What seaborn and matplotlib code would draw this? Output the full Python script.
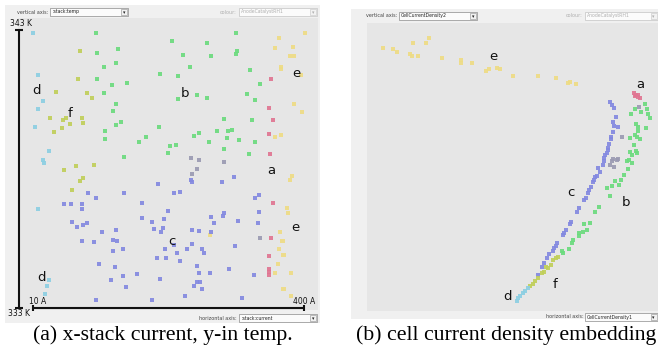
import matplotlib
matplotlib.use("Agg")
import matplotlib.pyplot as plt
import seaborn as sns
import pandas as pd
from matplotlib.patches import Rectangle

# ---------------- data: panel (a)  stack current [A] vs inlet temperature [K]
a_d_current = [10, 17, 24, 17, 13, 33, 24, 26, 17, 33, 30, 27]
a_d_temp = [342.89, 341.38, 340.45, 340.16, 339.51, 338.65, 338.32, 338.22, 336.56, 334.01, 333.79, 333.50]

a_f_current = [77.6, 74.7, 43.1, 87.7, 94.9, 34.5, 53.2, 57.5, 80.5, 81.9, 63.2, 51.7, 40.2, 71.9, 97.8, 54.6, 81.9, 77.6, 66.1]
a_f_temp = [342.24, 341.24, 340.77, 340.73, 340.55, 339.83, 339.76, 339.83, 339.83, 339.65, 339.62, 339.48, 339.33, 338.11, 338.14, 337.96, 337.68, 337.57, 337.24]

a_b_current = [100.6, 302.1, 210.0, 260.4, 132.3, 102.1, 225.8, 266.1, 303.5, 302.1, 129.4, 112.2, 235.9, 322.3, 192.7,
               218.6, 102.1, 336.6, 145.3, 123.7, 112.2, 246.0, 317.9, 260.4, 218.6, 329.4, 129.4, 125.1, 284.8, 325.1,
               136.6, 129.4, 191.3, 113.6, 274.8, 290.6, 296.3, 248.9, 241.7, 289.2, 113.6, 172.6, 162.5, 306.4, 263.3,
               329.4, 215.8, 207.1, 284.8, 204.3, 320.8, 140.9]
a_b_temp = [342.89, 342.89, 342.60, 342.53, 342.32, 342.17, 342.10, 342.06, 342.24, 342.14, 341.81, 341.67, 341.67, 341.56, 341.42,
            341.34, 341.24, 341.06, 341.09, 341.02, 340.73, 340.66, 340.70, 340.55, 340.52, 340.48, 340.34, 340.09, 339.80, 339.76,
            339.69, 339.58, 339.51, 339.37, 339.37, 339.37, 339.40, 339.30, 339.19, 339.12, 339.08, 339.15, 338.97, 339.04, 338.97,
            338.97, 338.86, 338.83, 338.72, 338.58, 338.54, 338.43]

a_e_current = [401.4, 364.0, 358.2, 384.1, 379.8, 385.6, 366.9, 366.9, 395.6, 385.6, 397.1, 366.9, 358.2, 382.7, 379.8,
               375.5, 376.9, 365.4, 264.7, 369.2, 364.0, 370.6, 362.5, 358.2, 381.2, 370.6, 381.2]
a_e_temp = [342.89, 342.71, 342.35, 342.39, 342.06, 342.06, 341.67, 341.60, 341.38, 340.34, 340.05, 339.22, 339.15, 337.75, 337.61,
            336.60, 336.42, 335.73, 335.63, 335.41, 335.12, 334.91, 334.58, 334.26, 334.26, 333.68, 333.43]

a_a_current = [352.5, 349.6, 355.3, 349.6, 351.0, 355.3, 352.5, 349.6, 349.6, 349.6, 349.6]
a_a_temp = [341.24, 340.19, 339.76, 339.26, 338.54, 336.78, 335.52, 334.87, 334.40, 334.29, 334.18]

a_g_current = [237.3, 248.9, 284.8, 246.0, 238.8, 336.6]
a_g_temp = [338.40, 338.32, 338.25, 338.00, 337.82, 335.52]

a_c_current = [237.3, 238.8, 299.2, 282.0, 189.9, 89.1, 140.9, 221.5, 212.9, 100.6, 335.2, 329.4, 54.6, 64.7, 80.5,
               166.8, 80.5, 204.3, 335.2, 284.8, 283.4, 266.1, 166.8, 198.5, 66.1, 305.0, 87.7, 81.9, 181.2, 270.4,
               333.8, 73.3, 184.1, 197.1, 194.2, 109.3, 129.4, 238.8, 248.9, 266.1, 80.5, 97.8, 125.1, 130.9, 238.8,
               212.9, 300.7, 139.5, 125.1, 199.9, 231.6, 253.2, 256.1, 217.2, 188.4, 201.4, 221.5, 105.0, 128.0, 246.0,
               292.0, 248.9, 264.7, 328.0, 159.6, 139.5, 122.2, 192.7, 250.3, 246.0, 241.7, 143.8, 253.2, 228.7, 100.6,
               181.2, 311.1]
a_c_temp = [337.61, 337.53, 337.71, 337.53, 337.46, 337.14, 337.14, 337.17, 337.14, 336.96, 337.07, 336.96, 336.74, 336.74, 336.74,
            336.78, 336.56, 336.49, 336.45, 336.42, 336.31, 336.27, 336.24, 336.20, 336.09, 336.13, 336.06, 335.99, 336.09, 336.06,
            336.06, 335.91, 335.84, 335.88, 335.73, 335.73, 335.81, 335.81, 335.77, 335.73, 335.41, 335.37, 335.45, 335.41, 335.30,
            335.27, 335.23, 335.12, 335.05, 335.12, 335.12, 335.12, 334.98, 334.98, 334.80, 334.80, 334.69, 334.58, 334.48, 334.51,
            334.40, 334.26, 334.26, 334.18, 334.22, 334.15, 334.01, 334.04, 333.94, 333.94, 333.79, 333.76, 333.68, 333.43, 333.29,
            333.29, 333.36]

# ---------------- data: panel (b)  cell current density embedding (arbitrary units)
b_e_d1 = [16, 26, 30, 46, 59, 62, 43, 45, 51, 75, 94, 94, 105, 119, 122, 130, 133, 146, 171, 189, 201, 203, 209]
b_e_d2 = [263, 262, 259, 268, 268, 273, 257, 255, 255, 253, 251, 248, 248, 240, 242, 243, 242, 235, 235, 233, 228, 229, 227]

b_a_d1 = [267, 269, 271, 273, 268, 271]
b_a_d2 = [218, 216, 214, 213, 215, 216]

b_g_d1 = [272, 255, 246, 251, 245, 250, 243, 247]
b_g_d2 = [204, 174, 152, 152, 150, 151, 146, 144]

b_b_d1 = [278, 268, 280, 274, 264, 281, 283, 269, 279, 271, 271, 263, 268, 270, 273, 267, 263, 269, 270, 265,
          260, 262, 265, 261, 257, 254, 248, 252, 245, 240, 243, 232, 228, 223, 217, 220, 216, 212, 212, 206,
          205, 202, 195, 196]
b_b_d2 = [207, 202, 202, 199, 197, 197, 193, 187, 183, 184, 180, 173, 176, 174, 172, 166, 159, 160, 158, 156,
          150, 151, 148, 142, 136, 131, 130, 126, 125, 123, 115, 104, 99, 88, 87, 81, 79, 78, 75, 71,
          68, 62, 60, 58]

b_c_d1 = [243, 245, 247, 249, 246, 247, 251, 246, 244, 244, 242, 241, 241, 238, 237, 240, 237, 236, 231, 233,
          230, 228, 227, 226, 224, 222, 221, 219, 217, 212, 210, 204, 203, 199, 197, 196, 190, 189, 187, 186,
          182, 180, 177, 175, 171]
b_c_d2 = [209, 206, 203, 194, 189, 185, 184, 179, 174, 172, 167, 163, 161, 156, 153, 158, 150, 146, 143, 139,
          135, 134, 131, 129, 124, 121, 118, 113, 111, 103, 99, 89, 87, 81, 78, 76, 68, 65, 63, 60,
          57, 53, 48, 44, 36]

b_f_d1 = [186, 189, 191, 184, 181, 179, 177, 175, 171, 168, 166, 163]
b_f_d2 = [51, 53, 54, 46, 43, 44, 39, 38, 33, 30, 27, 25]

b_d_d1 = [161, 158, 156, 153, 151, 150]
b_d_d2 = [23, 20, 18, 15, 13, 10]

palette = {"a": "#e07592", "b": "#6cdb7e", "c": "#8389e0", "d": "#8ccfe2",
           "e": "#eedc84", "f": "#c0cf5a", "g": "#9a9ab2"}

def frame(groups, xname, yname):
    parts = []
    for key, xs, ys in groups:
        parts.append(pd.DataFrame({xname: xs, yname: ys, "cluster": key}))
    return pd.concat(parts, ignore_index=True)

dfA = frame([("b", a_b_current, a_b_temp), ("f", a_f_current, a_f_temp), ("d", a_d_current, a_d_temp),
             ("e", a_e_current, a_e_temp), ("a", a_a_current, a_a_temp), ("c", a_c_current, a_c_temp),
             ("g", a_g_current, a_g_temp)], "current", "temp")
dfB = frame([("e", b_e_d1, b_e_d2), ("b", b_b_d1, b_b_d2), ("c", b_c_d1, b_c_d2), ("g", b_g_d1, b_g_d2),
             ("a", b_a_d1, b_a_d2), ("f", b_f_d1, b_f_d2), ("d", b_d_d1, b_d_d2)], "d1", "d2")

# ---------------- figure
sns.set_theme(style="white")
plt.rcParams["font.family"] = ["DejaVu Sans"]

W, H = 658, 347
fig = plt.figure(figsize=(W / 100, H / 100), dpi=100)
fig.patch.set_facecolor("white")

def prect(x0, y0, x1, y1):
    return [x0 / W, 1 - y1 / H, (x1 - x0) / W, (y1 - y0) / H]

def box(x0, y0, x1, y1, fc, ec="none", lw=0.0, z=-5):
    fig.add_artist(Rectangle((x0 / W, 1 - y1 / H), (x1 - x0) / W, (y1 - y0) / H,
                             transform=fig.transFigure, facecolor=fc, edgecolor=ec, lw=lw, zorder=z))

def ftext(x, y, s, **kw):
    fig.text(x / W, 1 - y / H, s, **kw)

def combo(x0, y0, x1, y1, label, enabled=True):
    ec = "#8c8c8c" if enabled else "#c4c4c4"
    tc = "#222222" if enabled else "#b0b0b0"
    box(x0, y0, x1, y1, "#fbfbfb", ec, 0.5, z=5)
    box(x1 - 7, y0 + 1, x1 - 1, y1 - 1, "#f2f2f2", ec, 0.4, z=6)
    ftext(x0 + 2, (y0 + y1) / 2, label, fontsize=3.3, color=tc, va="center", ha="left", zorder=7)
    ftext(x1 - 4, (y0 + y1) / 2 + 0.3, "\u25be", fontsize=3.5, color=tc, va="center", ha="center", zorder=7)

# outer frames
box(5, 5, 320, 323, "#f0f0f0")
box(351, 9, 658, 319, "#f0f0f0")

# ---------- panel (a)
axA = fig.add_axes(prect(18, 18, 318, 310))
sns.scatterplot(data=dfA, x="current", y="temp", hue="cluster", palette=palette, marker="s",
                s=10, linewidth=0, alpha=0.92, legend=False, ax=axA)
axA.set_xlim(-11.6, 420.1)
axA.set_ylim(332.93, 343.43)

# ---------- panel (b)
axB = fig.add_axes(prect(367, 23, 658, 311))
sns.scatterplot(data=dfB, x="d1", y="d2", hue="cluster", palette=palette, marker="s",
                s=10, linewidth=0, alpha=0.92, legend=False, ax=axB)
axB.set_xlim(0, 291)
axB.set_ylim(0, 288)

for ax in (axA, axB):
    ax.set_facecolor("#e6e6e6")
    for sp in ax.spines.values():
        sp.set_visible(False)
    ax.set_xticks([])
    ax.set_yticks([])
    ax.set_xlabel("")
    ax.set_ylabel("")

# custom axis bars in panel (a)
bar_kw = dict(color="#111111", lw=1.5, clip_on=False, solid_capstyle="butt")
axA.plot([-10.2, -10.2], [333, 343], **bar_kw)
axA.plot([-10.2], [343], marker="_", ms=6, mew=1.5, color="#111111", clip_on=False)
axA.plot([-10.2], [333], marker="_", ms=6, mew=1.5, color="#111111", clip_on=False)
axA.plot([10, 400], [333, 333], **bar_kw)
axA.plot([10, 400], [333, 333], ls="none", marker="|", ms=5, mew=1.5, color="#111111", clip_on=False)

ftext(20.5, 24, "343 K", fontsize=5.5, ha="center", va="center", color="#111111")
ftext(19, 313.5, "333 K", fontsize=5.5, ha="center", va="center", color="#111111")
ftext(37.5, 302, "10 A", fontsize=5.5, ha="center", va="center", color="#111111")
ftext(304.5, 302, "400 A", fontsize=5.5, ha="center", va="center", color="#111111")

# cluster letters
lab_kw = dict(fontsize=9.5, ha="center", va="center", color="#111111")
for s, x, y in [("d", 15.7, 340.84), ("d", 22.9, 334.11), ("f", 63.2, 339.98), ("b", 228.7, 340.73),
                ("e", 388.4, 341.45), ("e", 387.0, 335.88), ("a", 352.5, 337.96), ("c", 210.0, 335.41)]:
    axA.text(x, y, s, **lab_kw)
for s, x, y in [("e", 126, 254), ("a", 273, 226), ("c", 204, 119), ("b", 259, 109),
                ("f", 188, 27), ("d", 140, 14)]:
    axB.text(x, y, s, **lab_kw)

# UI controls panel (a)
ftext(48, 12, "vertical axis:", fontsize=3.5, ha="right", va="center", color="#444444")
combo(50, 8, 128, 16, ":stack:temp")
ftext(236, 12, "colour:", fontsize=3.5, ha="right", va="center", color="#b0b0b0")
combo(239, 8, 317, 16, "AnodeCatalystRH1", enabled=False)
ftext(237, 318, "horizontal axis:", fontsize=3.5, ha="right", va="center", color="#444444")
combo(239, 314, 317, 322, ":stack:current")

# UI controls panel (b)
ftext(397, 15.5, "vertical axis:", fontsize=3.5, ha="right", va="center", color="#444444")
combo(399, 12, 477, 20, "CellCurrentDensity2")
ftext(583, 15.5, "colour:", fontsize=3.5, ha="right", va="center", color="#b0b0b0")
combo(585, 12, 657.5, 20, "AnodeCatalystRH1", enabled=False)
ftext(584, 317, "horizontal axis:", fontsize=3.5, ha="right", va="center", color="#444444")
combo(585, 313, 657.5, 321, "CellCurrentDensity1")

# captions
cap_kw = dict(fontsize=15.7, ha="center", va="baseline", color="black", family=["Liberation Serif", "DejaVu Serif"])
ftext(162.5, 340, "(a) x-stack current, y-in temp.", **cap_kw)
ftext(506, 340, "(b) cell current density embedding", **cap_kw)

fig.savefig("out.png", dpi=100, facecolor="white")
